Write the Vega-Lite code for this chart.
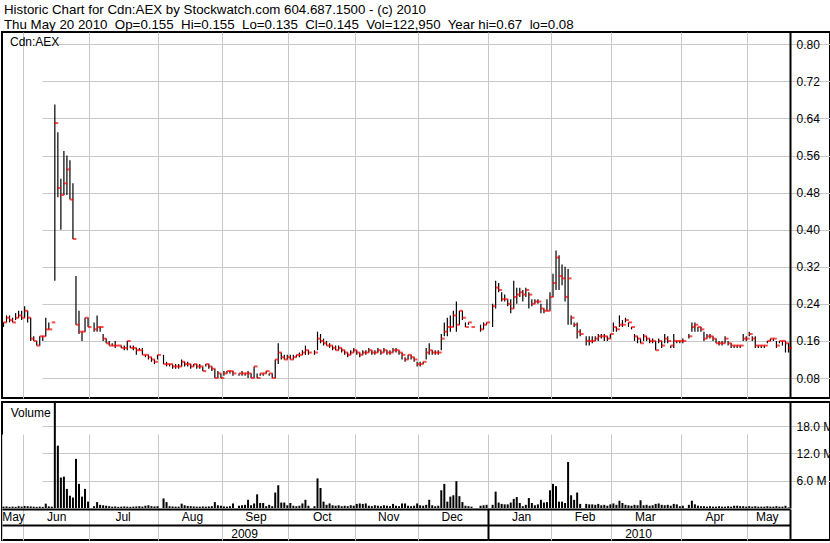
{
  "$schema": "https://vega.github.io/schema/vega-lite/v6.json",
  "padding": {"top": 3, "left": 0, "right": 0, "bottom": 0},
  "background": "white",
  "title": {
    "text": "Historic Chart for Cdn:AEX by Stockwatch.com 604.687.1500 - (c) 2010",
    "subtitle": "Thu May 20 2010\u00a0 Op=0.155\u00a0 Hi=0.155\u00a0 Lo=0.135\u00a0 Cl=0.145\u00a0 Vol=122,950\u00a0 Year hi=0.67\u00a0 lo=0.08",
    "anchor": "start", "frame": "group", "offset": 0, "dx": 2,
    "font": "Liberation Sans", "fontSize": 13.3, "fontWeight": "normal", "color": "black",
    "subtitleFont": "Liberation Sans", "subtitleFontSize": 13.3, "subtitleColor": "black", "subtitlePadding": 1
  },
  "datasets": {
    "p": [
      {"d":"2009-05-21","h":0.2,"l":0.19,"c":0.2,"v":300000},
      {"d":"2009-05-22","h":0.215,"l":0.2,"c":0.21,"v":350000},
      {"d":"2009-05-25","h":0.215,"l":0.2,"c":0.205,"v":250000},
      {"d":"2009-05-26","h":0.21,"l":0.2,"c":0.2,"v":300000},
      {"d":"2009-05-27","h":0.22,"l":0.205,"c":0.21,"v":250000},
      {"d":"2009-05-28","h":0.225,"l":0.21,"c":0.215,"v":400000},
      {"d":"2009-05-29","h":0.225,"l":0.205,"c":0.21,"v":300000},
      {"d":"2009-06-01","h":0.235,"l":0.21,"c":0.225,"v":450000},
      {"d":"2009-06-02","h":0.225,"l":0.2,"c":0.21,"v":400000},
      {"d":"2009-06-03","h":0.21,"l":0.16,"c":0.165,"v":350000},
      {"d":"2009-06-04","h":0.17,"l":0.16,"c":0.16,"v":300000},
      {"d":"2009-06-05","h":0.16,"l":0.15,"c":0.15,"v":250000},
      {"d":"2009-06-08","h":0.17,"l":0.15,"c":0.17,"v":300000},
      {"d":"2009-06-09","h":0.17,"l":0.16,"c":0.17,"v":250000},
      {"d":"2009-06-10","h":0.21,"l":0.17,"c":0.185,"v":950000},
      {"d":"2009-06-11","h":0.2,"l":0.185,"c":0.185,"v":350000},
      {"d":"2009-06-12","h":0.2,"l":0.2,"c":0.2,"v":300000},
      {"d":"2009-06-15","h":0.67,"l":0.29,"c":0.63,"v":28000000},
      {"d":"2009-06-16","h":0.61,"l":0.47,"c":0.49,"v":13700000},
      {"d":"2009-06-17","h":0.51,"l":0.4,"c":0.475,"v":6700000},
      {"d":"2009-06-18","h":0.57,"l":0.475,"c":0.5,"v":6900000},
      {"d":"2009-06-19","h":0.56,"l":0.475,"c":0.53,"v":4200000},
      {"d":"2009-06-22","h":0.55,"l":0.465,"c":0.465,"v":2700000},
      {"d":"2009-06-23","h":0.5,"l":0.38,"c":0.38,"v":2300000},
      {"d":"2009-06-24","h":0.3,"l":0.195,"c":0.195,"v":10800000},
      {"d":"2009-06-25","h":0.225,"l":0.175,"c":0.18,"v":5300000},
      {"d":"2009-06-26","h":0.18,"l":0.16,"c":0.18,"v":2500000},
      {"d":"2009-06-29","h":0.21,"l":0.18,"c":0.21,"v":4200000},
      {"d":"2009-06-30","h":0.21,"l":0.19,"c":0.19,"v":1400000},
      {"d":"2009-07-01","v":0},
      {"d":"2009-07-02","h":0.2,"l":0.18,"c":0.185,"v":400000},
      {"d":"2009-07-03","h":0.215,"l":0.18,"c":0.19,"v":1300000},
      {"d":"2009-07-06","h":0.19,"l":0.18,"c":0.19,"v":700000},
      {"d":"2009-07-07","h":0.175,"l":0.16,"c":0.165,"v":600000},
      {"d":"2009-07-08","h":0.165,"l":0.155,"c":0.155,"v":500000},
      {"d":"2009-07-09","h":0.16,"l":0.15,"c":0.15,"v":400000},
      {"d":"2009-07-10","h":0.155,"l":0.15,"c":0.15,"v":300000},
      {"d":"2009-07-13","h":0.16,"l":0.145,"c":0.15,"v":350000},
      {"d":"2009-07-14","h":0.15,"l":0.15,"c":0.15,"v":250000},
      {"d":"2009-07-15","h":0.15,"l":0.145,"c":0.145,"v":300000},
      {"d":"2009-07-16","h":0.15,"l":0.14,"c":0.145,"v":350000},
      {"d":"2009-07-17","h":0.16,"l":0.14,"c":0.16,"v":300000},
      {"d":"2009-07-20","h":0.15,"l":0.145,"c":0.145,"v":250000},
      {"d":"2009-07-21","h":0.15,"l":0.14,"c":0.145,"v":300000},
      {"d":"2009-07-22","h":0.145,"l":0.13,"c":0.14,"v":350000},
      {"d":"2009-07-23","h":0.145,"l":0.14,"c":0.14,"v":400000},
      {"d":"2009-07-24","h":0.145,"l":0.13,"c":0.13,"v":300000},
      {"d":"2009-07-27","h":0.13,"l":0.125,"c":0.13,"v":500000},
      {"d":"2009-07-28","h":0.13,"l":0.12,"c":0.125,"v":600000},
      {"d":"2009-07-29","h":0.125,"l":0.115,"c":0.12,"v":400000},
      {"d":"2009-07-30","h":0.12,"l":0.11,"c":0.115,"v":350000},
      {"d":"2009-07-31","h":0.13,"l":0.12,"c":0.13,"v":400000},
      {"d":"2009-08-03","v":0},
      {"d":"2009-08-04","h":0.13,"l":0.11,"c":0.11,"v":2100000},
      {"d":"2009-08-05","h":0.115,"l":0.105,"c":0.11,"v":1300000},
      {"d":"2009-08-06","h":0.11,"l":0.105,"c":0.11,"v":400000},
      {"d":"2009-08-07","h":0.11,"l":0.1,"c":0.105,"v":350000},
      {"d":"2009-08-10","h":0.11,"l":0.1,"c":0.105,"v":300000},
      {"d":"2009-08-11","h":0.11,"l":0.1,"c":0.105,"v":300000},
      {"d":"2009-08-12","h":0.12,"l":0.105,"c":0.115,"v":950000},
      {"d":"2009-08-13","h":0.115,"l":0.105,"c":0.11,"v":600000},
      {"d":"2009-08-14","h":0.115,"l":0.105,"c":0.11,"v":450000},
      {"d":"2009-08-17","h":0.11,"l":0.1,"c":0.105,"v":400000},
      {"d":"2009-08-18","h":0.11,"l":0.105,"c":0.11,"v":350000},
      {"d":"2009-08-19","h":0.11,"l":0.1,"c":0.105,"v":300000},
      {"d":"2009-08-20","h":0.11,"l":0.1,"c":0.105,"v":300000},
      {"d":"2009-08-21","h":0.105,"l":0.095,"c":0.095,"v":350000},
      {"d":"2009-08-24","h":0.11,"l":0.105,"c":0.11,"v":300000},
      {"d":"2009-08-25","h":0.11,"l":0.1,"c":0.105,"v":350000},
      {"d":"2009-08-26","h":0.105,"l":0.095,"c":0.1,"v":400000},
      {"d":"2009-08-27","h":0.1,"l":0.08,"c":0.08,"v":1300000},
      {"d":"2009-08-28","h":0.095,"l":0.08,"c":0.09,"v":600000},
      {"d":"2009-08-31","h":0.09,"l":0.08,"c":0.08,"v":500000},
      {"d":"2009-09-01","h":0.095,"l":0.085,"c":0.09,"v":350000},
      {"d":"2009-09-02","h":0.095,"l":0.09,"c":0.095,"v":300000},
      {"d":"2009-09-03","h":0.095,"l":0.09,"c":0.095,"v":400000},
      {"d":"2009-09-04","h":0.095,"l":0.085,"c":0.09,"v":1000000},
      {"d":"2009-09-07","v":0},
      {"d":"2009-09-08","h":0.09,"l":0.085,"c":0.09,"v":500000},
      {"d":"2009-09-09","h":0.095,"l":0.085,"c":0.09,"v":600000},
      {"d":"2009-09-10","h":0.09,"l":0.085,"c":0.09,"v":700000},
      {"d":"2009-09-11","h":0.095,"l":0.08,"c":0.09,"v":1800000},
      {"d":"2009-09-14","h":0.09,"l":0.08,"c":0.08,"v":600000},
      {"d":"2009-09-15","h":0.105,"l":0.08,"c":0.105,"v":1000000},
      {"d":"2009-09-16","h":0.09,"l":0.08,"c":0.08,"v":3000000},
      {"d":"2009-09-17","h":0.09,"l":0.085,"c":0.09,"v":1100000},
      {"d":"2009-09-18","h":0.09,"l":0.085,"c":0.09,"v":1100000},
      {"d":"2009-09-21","h":0.095,"l":0.09,"c":0.095,"v":400000},
      {"d":"2009-09-22","h":0.09,"l":0.085,"c":0.09,"v":700000},
      {"d":"2009-09-23","h":0.09,"l":0.08,"c":0.08,"v":400000},
      {"d":"2009-09-24","h":0.12,"l":0.08,"c":0.12,"v":3400000},
      {"d":"2009-09-25","h":0.155,"l":0.11,"c":0.135,"v":5000000},
      {"d":"2009-09-28","h":0.135,"l":0.12,"c":0.125,"v":1200000},
      {"d":"2009-09-29","h":0.13,"l":0.12,"c":0.12,"v":1200000},
      {"d":"2009-09-30","h":0.13,"l":0.12,"c":0.125,"v":600000},
      {"d":"2009-10-01","h":0.13,"l":0.12,"c":0.12,"v":1100000},
      {"d":"2009-10-02","h":0.13,"l":0.12,"c":0.125,"v":500000},
      {"d":"2009-10-05","h":0.13,"l":0.125,"c":0.13,"v":400000},
      {"d":"2009-10-06","h":0.135,"l":0.125,"c":0.13,"v":500000},
      {"d":"2009-10-07","h":0.14,"l":0.13,"c":0.135,"v":1000000},
      {"d":"2009-10-08","h":0.15,"l":0.13,"c":0.14,"v":1800000},
      {"d":"2009-10-09","h":0.14,"l":0.13,"c":0.135,"v":500000},
      {"d":"2009-10-12","v":0},
      {"d":"2009-10-13","h":0.14,"l":0.13,"c":0.135,"v":400000},
      {"d":"2009-10-14","h":0.18,"l":0.14,"c":0.165,"v":6500000},
      {"d":"2009-10-15","h":0.175,"l":0.155,"c":0.16,"v":4400000},
      {"d":"2009-10-16","h":0.165,"l":0.15,"c":0.155,"v":1400000},
      {"d":"2009-10-19","h":0.16,"l":0.15,"c":0.15,"v":700000},
      {"d":"2009-10-20","h":0.155,"l":0.145,"c":0.15,"v":1000000},
      {"d":"2009-10-21","h":0.15,"l":0.14,"c":0.145,"v":600000},
      {"d":"2009-10-22","h":0.15,"l":0.14,"c":0.14,"v":500000},
      {"d":"2009-10-23","h":0.15,"l":0.14,"c":0.145,"v":600000},
      {"d":"2009-10-26","h":0.145,"l":0.135,"c":0.14,"v":400000},
      {"d":"2009-10-27","h":0.14,"l":0.13,"c":0.135,"v":500000},
      {"d":"2009-10-28","h":0.135,"l":0.125,"c":0.13,"v":400000},
      {"d":"2009-10-29","h":0.14,"l":0.13,"c":0.135,"v":600000},
      {"d":"2009-10-30","h":0.145,"l":0.135,"c":0.14,"v":500000},
      {"d":"2009-11-02","h":0.14,"l":0.13,"c":0.135,"v":900000},
      {"d":"2009-11-03","h":0.135,"l":0.125,"c":0.13,"v":1000000},
      {"d":"2009-11-04","h":0.14,"l":0.13,"c":0.135,"v":900000},
      {"d":"2009-11-05","h":0.14,"l":0.13,"c":0.135,"v":1000000},
      {"d":"2009-11-06","h":0.145,"l":0.135,"c":0.14,"v":500000},
      {"d":"2009-11-09","h":0.14,"l":0.13,"c":0.135,"v":400000},
      {"d":"2009-11-10","h":0.14,"l":0.13,"c":0.135,"v":600000},
      {"d":"2009-11-11","h":0.145,"l":0.135,"c":0.14,"v":500000},
      {"d":"2009-11-12","h":0.14,"l":0.13,"c":0.135,"v":400000},
      {"d":"2009-11-13","h":0.145,"l":0.135,"c":0.14,"v":600000},
      {"d":"2009-11-16","h":0.14,"l":0.13,"c":0.135,"v":500000},
      {"d":"2009-11-17","h":0.14,"l":0.13,"c":0.135,"v":400000},
      {"d":"2009-11-18","h":0.145,"l":0.135,"c":0.14,"v":900000},
      {"d":"2009-11-19","h":0.145,"l":0.135,"c":0.14,"v":500000},
      {"d":"2009-11-20","h":0.14,"l":0.13,"c":0.135,"v":400000},
      {"d":"2009-11-23","h":0.135,"l":0.12,"c":0.13,"v":1000000},
      {"d":"2009-11-24","h":0.125,"l":0.115,"c":0.12,"v":1000000},
      {"d":"2009-11-25","h":0.13,"l":0.12,"c":0.13,"v":500000},
      {"d":"2009-11-26","h":0.13,"l":0.12,"c":0.125,"v":400000},
      {"d":"2009-11-27","h":0.125,"l":0.115,"c":0.12,"v":500000},
      {"d":"2009-11-30","h":0.115,"l":0.105,"c":0.11,"v":1000000},
      {"d":"2009-12-01","h":0.115,"l":0.105,"c":0.11,"v":600000},
      {"d":"2009-12-02","h":0.115,"l":0.11,"c":0.115,"v":500000},
      {"d":"2009-12-03","h":0.145,"l":0.12,"c":0.135,"v":700000},
      {"d":"2009-12-04","h":0.155,"l":0.13,"c":0.14,"v":1800000},
      {"d":"2009-12-07","h":0.14,"l":0.13,"c":0.135,"v":600000},
      {"d":"2009-12-08","h":0.14,"l":0.13,"c":0.135,"v":400000},
      {"d":"2009-12-09","h":0.14,"l":0.13,"c":0.135,"v":500000},
      {"d":"2009-12-10","h":0.175,"l":0.14,"c":0.165,"v":3900000},
      {"d":"2009-12-11","h":0.2,"l":0.17,"c":0.18,"v":5300000},
      {"d":"2009-12-14","h":0.21,"l":0.17,"c":0.19,"v":1400000},
      {"d":"2009-12-15","h":0.215,"l":0.18,"c":0.19,"v":2500000},
      {"d":"2009-12-16","h":0.225,"l":0.19,"c":0.215,"v":2800000},
      {"d":"2009-12-17","h":0.245,"l":0.18,"c":0.195,"v":5900000},
      {"d":"2009-12-18","h":0.225,"l":0.195,"c":0.225,"v":2600000},
      {"d":"2009-12-21","h":0.225,"l":0.205,"c":0.21,"v":1300000},
      {"d":"2009-12-22","h":0.2,"l":0.19,"c":0.19,"v":500000},
      {"d":"2009-12-23","h":0.2,"l":0.195,"c":0.2,"v":400000},
      {"d":"2009-12-24","h":0.19,"l":0.19,"c":0.19,"v":300000},
      {"d":"2009-12-25","v":0},
      {"d":"2009-12-28","v":0},
      {"d":"2009-12-29","h":0.195,"l":0.18,"c":0.185,"v":500000},
      {"d":"2009-12-30","h":0.2,"l":0.185,"c":0.195,"v":600000},
      {"d":"2009-12-31","h":0.2,"l":0.195,"c":0.2,"v":700000},
      {"d":"2010-01-01","v":0},
      {"d":"2010-01-04","h":0.24,"l":0.19,"c":0.235,"v":700000},
      {"d":"2010-01-05","h":0.29,"l":0.23,"c":0.275,"v":3600000},
      {"d":"2010-01-06","h":0.285,"l":0.265,"c":0.27,"v":1200000},
      {"d":"2010-01-07","h":0.265,"l":0.245,"c":0.25,"v":900000},
      {"d":"2010-01-08","h":0.26,"l":0.245,"c":0.25,"v":800000},
      {"d":"2010-01-11","h":0.25,"l":0.235,"c":0.24,"v":800000},
      {"d":"2010-01-12","h":0.25,"l":0.22,"c":0.23,"v":1200000},
      {"d":"2010-01-13","h":0.29,"l":0.23,"c":0.255,"v":2000000},
      {"d":"2010-01-14","h":0.275,"l":0.24,"c":0.26,"v":2400000},
      {"d":"2010-01-15","h":0.275,"l":0.255,"c":0.265,"v":1100000},
      {"d":"2010-01-18","h":0.27,"l":0.245,"c":0.26,"v":400000},
      {"d":"2010-01-19","h":0.275,"l":0.255,"c":0.27,"v":700000},
      {"d":"2010-01-20","h":0.265,"l":0.23,"c":0.26,"v":2200000},
      {"d":"2010-01-21","h":0.25,"l":0.235,"c":0.24,"v":1100000},
      {"d":"2010-01-22","h":0.25,"l":0.24,"c":0.245,"v":600000},
      {"d":"2010-01-25","h":0.25,"l":0.24,"c":0.245,"v":800000},
      {"d":"2010-01-26","h":0.24,"l":0.22,"c":0.23,"v":1800000},
      {"d":"2010-01-27","h":0.23,"l":0.22,"c":0.225,"v":1200000},
      {"d":"2010-01-28","h":0.25,"l":0.225,"c":0.225,"v":1300000},
      {"d":"2010-01-29","h":0.265,"l":0.225,"c":0.255,"v":3900000},
      {"d":"2010-02-01","h":0.305,"l":0.255,"c":0.285,"v":5300000},
      {"d":"2010-02-02","h":0.355,"l":0.27,"c":0.34,"v":4800000},
      {"d":"2010-02-03","h":0.345,"l":0.27,"c":0.3,"v":1400000},
      {"d":"2010-02-04","h":0.325,"l":0.28,"c":0.295,"v":1400000},
      {"d":"2010-02-05","h":0.32,"l":0.245,"c":0.255,"v":1100000},
      {"d":"2010-02-08","h":0.315,"l":0.195,"c":0.295,"v":10100000},
      {"d":"2010-02-09","h":0.215,"l":0.195,"c":0.21,"v":2800000},
      {"d":"2010-02-10","h":0.2,"l":0.19,"c":0.195,"v":1800000},
      {"d":"2010-02-11","h":0.2,"l":0.165,"c":0.18,"v":3400000},
      {"d":"2010-02-12","h":0.185,"l":0.17,"c":0.175,"v":900000},
      {"d":"2010-02-15","v":0},
      {"d":"2010-02-16","h":0.17,"l":0.15,"c":0.16,"v":900000},
      {"d":"2010-02-17","h":0.17,"l":0.15,"c":0.16,"v":800000},
      {"d":"2010-02-18","h":0.17,"l":0.155,"c":0.16,"v":800000},
      {"d":"2010-02-19","h":0.17,"l":0.16,"c":0.165,"v":700000},
      {"d":"2010-02-22","h":0.175,"l":0.16,"c":0.17,"v":900000},
      {"d":"2010-02-23","h":0.175,"l":0.165,"c":0.17,"v":600000},
      {"d":"2010-02-24","h":0.175,"l":0.16,"c":0.17,"v":700000},
      {"d":"2010-02-25","h":0.17,"l":0.16,"c":0.165,"v":500000},
      {"d":"2010-02-26","h":0.175,"l":0.165,"c":0.175,"v":800000},
      {"d":"2010-03-01","h":0.2,"l":0.18,"c":0.19,"v":1000000},
      {"d":"2010-03-02","h":0.19,"l":0.18,"c":0.185,"v":700000},
      {"d":"2010-03-03","h":0.215,"l":0.19,"c":0.195,"v":1600000},
      {"d":"2010-03-04","h":0.205,"l":0.19,"c":0.195,"v":1100000},
      {"d":"2010-03-05","h":0.21,"l":0.2,"c":0.205,"v":700000},
      {"d":"2010-03-08","h":0.2,"l":0.19,"c":0.2,"v":600000},
      {"d":"2010-03-09","h":0.19,"l":0.185,"c":0.19,"v":500000},
      {"d":"2010-03-10","h":0.175,"l":0.16,"c":0.17,"v":700000},
      {"d":"2010-03-11","h":0.17,"l":0.155,"c":0.165,"v":600000},
      {"d":"2010-03-12","h":0.165,"l":0.155,"c":0.155,"v":1700000},
      {"d":"2010-03-15","h":0.175,"l":0.16,"c":0.17,"v":600000},
      {"d":"2010-03-16","h":0.17,"l":0.16,"c":0.165,"v":700000},
      {"d":"2010-03-17","h":0.165,"l":0.155,"c":0.16,"v":500000},
      {"d":"2010-03-18","h":0.165,"l":0.155,"c":0.16,"v":600000},
      {"d":"2010-03-19","h":0.16,"l":0.14,"c":0.14,"v":900000},
      {"d":"2010-03-22","h":0.165,"l":0.155,"c":0.16,"v":1000000},
      {"d":"2010-03-23","h":0.16,"l":0.145,"c":0.15,"v":700000},
      {"d":"2010-03-24","h":0.175,"l":0.155,"c":0.165,"v":600000},
      {"d":"2010-03-25","h":0.17,"l":0.155,"c":0.16,"v":700000},
      {"d":"2010-03-26","h":0.15,"l":0.145,"c":0.15,"v":500000},
      {"d":"2010-03-29","h":0.175,"l":0.145,"c":0.16,"v":900000},
      {"d":"2010-03-30","h":0.16,"l":0.155,"c":0.16,"v":800000},
      {"d":"2010-03-31","h":0.16,"l":0.155,"c":0.16,"v":400000},
      {"d":"2010-04-01","h":0.165,"l":0.155,"c":0.16,"v":500000},
      {"d":"2010-04-02","v":0},
      {"d":"2010-04-05","h":0.175,"l":0.165,"c":0.17,"v":700000},
      {"d":"2010-04-06","h":0.2,"l":0.18,"c":0.19,"v":1600000},
      {"d":"2010-04-07","h":0.2,"l":0.18,"c":0.195,"v":800000},
      {"d":"2010-04-08","h":0.19,"l":0.18,"c":0.19,"v":500000},
      {"d":"2010-04-09","h":0.19,"l":0.18,"c":0.185,"v":400000},
      {"d":"2010-04-12","h":0.18,"l":0.16,"c":0.165,"v":400000},
      {"d":"2010-04-13","h":0.175,"l":0.165,"c":0.17,"v":300000},
      {"d":"2010-04-14","h":0.175,"l":0.165,"c":0.17,"v":400000},
      {"d":"2010-04-15","h":0.17,"l":0.16,"c":0.165,"v":300000},
      {"d":"2010-04-16","h":0.165,"l":0.155,"c":0.155,"v":300000},
      {"d":"2010-04-19","h":0.16,"l":0.15,"c":0.155,"v":400000},
      {"d":"2010-04-20","h":0.16,"l":0.15,"c":0.155,"v":300000},
      {"d":"2010-04-21","h":0.17,"l":0.155,"c":0.165,"v":300000},
      {"d":"2010-04-22","h":0.16,"l":0.15,"c":0.155,"v":400000},
      {"d":"2010-04-23","h":0.155,"l":0.145,"c":0.15,"v":300000},
      {"d":"2010-04-26","h":0.15,"l":0.145,"c":0.15,"v":500000},
      {"d":"2010-04-27","h":0.15,"l":0.145,"c":0.15,"v":500000},
      {"d":"2010-04-28","h":0.15,"l":0.145,"c":0.15,"v":400000},
      {"d":"2010-04-29","h":0.175,"l":0.16,"c":0.165,"v":400000},
      {"d":"2010-04-30","h":0.17,"l":0.16,"c":0.165,"v":300000},
      {"d":"2010-05-03","h":0.18,"l":0.17,"c":0.175,"v":400000},
      {"d":"2010-05-04","h":0.17,"l":0.16,"c":0.165,"v":300000},
      {"d":"2010-05-05","h":0.17,"l":0.145,"c":0.15,"v":400000},
      {"d":"2010-05-06","h":0.15,"l":0.145,"c":0.15,"v":300000},
      {"d":"2010-05-07","h":0.15,"l":0.145,"c":0.15,"v":300000},
      {"d":"2010-05-10","h":0.15,"l":0.145,"c":0.15,"v":300000},
      {"d":"2010-05-11","h":0.16,"l":0.155,"c":0.16,"v":400000},
      {"d":"2010-05-12","h":0.165,"l":0.16,"c":0.165,"v":300000},
      {"d":"2010-05-13","h":0.165,"l":0.16,"c":0.165,"v":300000},
      {"d":"2010-05-14","h":0.16,"l":0.145,"c":0.15,"v":400000},
      {"d":"2010-05-17","h":0.16,"l":0.155,"c":0.16,"v":300000},
      {"d":"2010-05-18","h":0.16,"l":0.15,"c":0.16,"v":300000},
      {"d":"2010-05-19","h":0.16,"l":0.135,"c":0.155,"v":500000},
      {"d":"2010-05-20","h":0.155,"l":0.135,"c":0.145,"v":122950}
    ]
  },
  "data": {"name": "p"},
  "spacing": 2,
  "resolve": {"scale": {"x": "shared"}},
  "vconcat": [
    {
      "width": 828,
      "height": 366,
      "title": {"text": "Cdn:AEX", "anchor": "start", "offset": -17, "dx": 8, "font": "Liberation Sans", "fontSize": 12, "fontWeight": "normal", "color": "black"},
      "layer": [
        {
          "mark": {"type": "rule", "color": "black", "strokeWidth": 1.2},
          "encoding": {
            "x": {"field": "d", "type": "ordinal",
              "scale": {"range": [0, 788], "paddingInner": 0, "paddingOuter": 0},
              "axis": {"values": ["2009-06-01","2009-07-01","2009-08-03","2009-09-01","2009-10-01","2009-11-02","2009-12-01","2010-01-01","2010-02-01","2010-03-01","2010-04-01","2010-05-03"],
                "bandPosition": 0, "grid": true, "labels": false, "ticks": false, "domain": false, "title": null}},
            "y": {"field": "l", "type": "quantitative",
              "scale": {"domain": [0.0369, 0.8265], "nice": false, "zero": false},
              "axis": {"orient": "right", "offset": -40, "values": [0.08,0.12,0.16,0.2,0.24,0.28,0.32,0.36,0.4,0.44,0.48,0.52,0.56,0.6,0.64,0.68,0.72,0.76,0.8],
                "format": ".2f", "grid": true, "ticks": false, "tickSize": 0, "labelPadding": 6, "domainWidth": 2,
                "labelOverlap": false, "labelBound": false, "labelFlush": false, "title": null}},
            "y2": {"field": "h"}
          }
        },
        {
          "mark": {"type": "tick", "color": "#ff0000", "orient": "horizontal", "size": 3.5, "thickness": 2, "xOffset": 1.7},
          "encoding": {
            "x": {"field": "d", "type": "ordinal"},
            "y": {"field": "c", "type": "quantitative"}
          }
        }
      ]
    },
    {
      "width": 828,
      "height": 138,
      "title": {"text": "Volume", "anchor": "start", "offset": -18, "dx": 9, "font": "Liberation Sans", "fontSize": 12, "fontWeight": "normal", "color": "black"},
      "resolve": {"axis": {"x": "independent", "y": "independent"}},
      "layer": [
        {
          "mark": {"type": "bar", "color": "black", "width": 2, "clip": true},
          "encoding": {
            "x": {"field": "d", "type": "ordinal",
              "axis": {"orient": "bottom", "values": ["2009-05-21","2009-06-01","2009-07-01","2009-08-03","2009-09-01","2009-10-01","2009-11-02","2009-12-01","2010-01-01","2010-02-01","2010-03-01","2010-04-01","2010-05-03"],
                "bandPosition": 0, "grid": true, "ticks": false, "domain": true, "domainWidth": 2, "offset": -15,
                "labelExpr": "['Jan','Feb','Mar','Apr','May','Jun','Jul','Aug','Sep','Oct','Nov','Dec'][toNumber(substring(datum.value,5,7))-1]",
                "labelAlign": "center", "labelBaseline": "bottom", "labelPadding": -2, "labelAngle": 0,
                "labelOffset": {"condition": [{"test": "datum.value === '2009-05-21'", "value": 10}, {"test": "datum.value === '2010-05-03'", "value": 18}], "value": 32},
                "labelOverlap": false, "labelBound": false, "labelFlush": false, "title": null}},
            "y": {"field": "v", "type": "quantitative",
              "scale": {"domain": [0, 23300000], "range": [106, 0], "nice": false, "zero": true},
              "axis": {"orient": "right", "offset": -40, "values": [6000000, 12000000, 18000000],
                "labelExpr": "format(datum.value/1000000, '.1f') + ' M'",
                "grid": true, "ticks": false, "tickSize": 0, "labelPadding": 6, "domainWidth": 2,
                "labelOverlap": false, "labelBound": false, "labelFlush": false, "title": null}}
          }
        },
        {
          "mark": {"type": "bar", "opacity": 0, "width": 2, "clip": true},
          "encoding": {
            "x": {"field": "d", "type": "ordinal",
              "axis": {"orient": "bottom", "values": ["2009-12-31", "2010-05-20"], "bandPosition": 1, "offset": -31,
                "domain": true, "domainWidth": 2, "ticks": true, "tickSize": 31, "tickWidth": 2, "grid": false,
                "labelExpr": "datum.value === '2009-12-31' ? '2009' : '2010'",
                "labelAlign": "center", "labelBaseline": "bottom", "labelPadding": 0, "labelAngle": 0,
                "labelOffset": {"condition": {"test": "datum.value === '2009-12-31'", "value": -242}, "value": -150},
                "labelOverlap": false, "labelBound": false, "labelFlush": false, "title": null}},
            "y": {"field": "v", "type": "quantitative", "axis": null}
          }
        }
      ]
    }
  ],
  "config": {
    "view": {"stroke": "black", "strokeWidth": 2},
    "font": "Liberation Sans",
    "axis": {"labelFont": "Liberation Sans", "labelFontSize": 12, "labelColor": "black", "gridColor": "#c8c8c8", "gridWidth": 1, "gridOpacity": 1, "domainColor": "black", "tickColor": "black"}
  }
}
